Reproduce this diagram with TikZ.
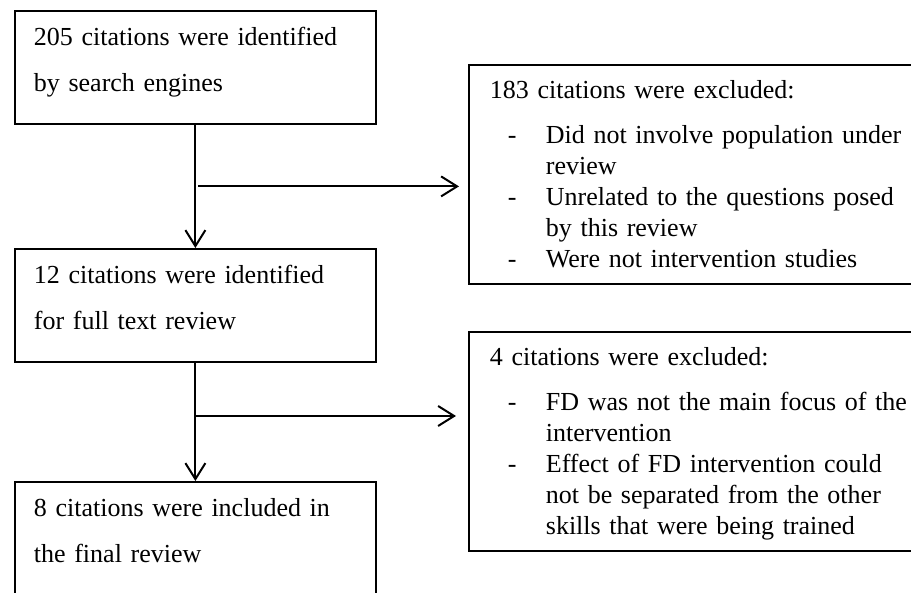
\documentclass[tikz,border=0pt]{standalone}
\usepackage{fontspec}
\setmainfont{Liberation Serif}
\usetikzlibrary{arrows.meta,calc}
\newcommand{\dashitem}{\hspace*{18pt}\makebox[38pt][l]{-}}
\newcommand{\dashcont}{\hspace*{56pt}}
\begin{document}
\begin{tikzpicture}[x=1pt, y=-1pt,
  stage/.style={draw, line width=1.8pt, anchor=north west, align=left,
    font=\fontsize{26}{46}\selectfont, inner xsep=19pt, inner ysep=0pt,
    text width=323pt, text height=35pt, text depth=78pt},
  excl/.style={draw, line width=1.8pt, anchor=north west, align=left,
    font=\fontsize{26}{31}\selectfont, inner xsep=21pt, inner ysep=0pt,
    text width=420pt, text height=34pt, text depth=185pt},
  flow/.style={line width=2pt, -{Straight Barb[length=16pt, width=20pt]}}]
  \clip (0,0) rectangle (911,593);
  % left column
  \node[stage] (ident) at (14,10) {205 citations were identified\\by search engines};
  \node[stage] (full) at (14,248) {12 citations were identified\\for full text review};
  \node[stage, text depth=110pt] (incl) at (14,481) {8 citations were included in\\the final review};
  % right column
  \node[excl] (excl1) at (468,64) {183 citations were excluded:\\[14pt]
    \dashitem Did not involve population under\\
    \dashcont review\\
    \dashitem Unrelated to the questions posed\\
    \dashcont by this review\\
    \dashitem Were not intervention studies};
  \node[excl] (excl2) at (468,331) {4 citations were excluded:\\[14pt]
    \dashitem FD was not the main focus of the\\
    \dashcont intervention\\
    \dashitem Effect of FD intervention could\\
    \dashcont not be separated from the other\\
    \dashcont skills that were being trained};
  % arrows
  \coordinate (split1) at ($(ident.south)!.5!(full.north)$);
  \coordinate (split2) at ($(full.south)!.45!(incl.north)$);
  \draw[flow] (ident) -- (full);
  \draw[flow] (full) -- (incl);
  \draw[flow, shorten <=3pt, shorten >=9pt] (split1) -- (split1 -| excl1.west);
  \draw[flow, shorten >=12pt] (split2) -- (split2 -| excl2.west);
\end{tikzpicture}
\end{document}
